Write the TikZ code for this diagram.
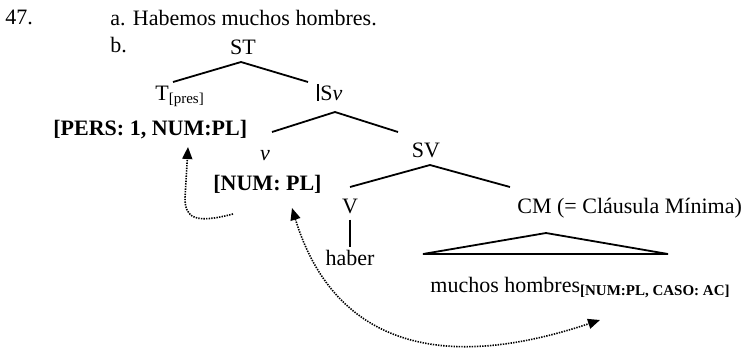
\documentclass[tikz,border=0pt]{standalone}
\usepackage{fontspec}
\setmainfont{Liberation Serif}
\usepackage{tikz}
\usetikzlibrary{arrows.meta,positioning,calc}

\tikzset{
  txt/.style={inner sep=0pt, font=\fontsize{11}{13}\selectfont},
  rama/.style={line width=0.9pt},
  enlace/.style={line width=0.8pt, dash pattern=on 0.7pt off 0.6pt},
  punta/.tip={Triangle[length=6pt,width=5pt]}
}
\newcommand{\subsm}[1]{\textsubscript{\fontsize{7.5}{8}\selectfont #1}}

\begin{document}
\begin{tikzpicture}[x=0.5pt, y=-0.5pt]
\useasboundingbox (0,0) rectangle (744,349);
% nodos
\node[txt, anchor=base west] (num) at (5,24) {47.};
\node[txt, anchor=base west] (ejA) at (110,25) {a. Habemos muchos hombres.};
\node[txt, anchor=base west] (ejB) at (110,52) {b.};
\node[txt, anchor=base] (st) at (243,54) {ST};
\node[txt, anchor=base west] (t) at (155,100) {T\subsm{[pres]}};
\node[txt, anchor=base west] (sv1) at (320,100) {S\textit{ν}};
\node[txt, anchor=base west, font=\fontsize{11}{13}\selectfont\bfseries] (pers) at (53,135) {[PERS: 1, NUM:PL]};
\node[txt, anchor=base] (v1) at (265,160) {\textit{ν}};
\node[txt, anchor=base west, font=\fontsize{11}{13}\selectfont\bfseries] (numv) at (213,190) {[NUM: PL]};
\node[txt, anchor=base] (sv) at (426,157) {SV};
\node[txt, anchor=base] (v) at (350,213) {V};
\node[txt, anchor=base west] (cm) at (517,213) {CM (= Cláusula Mínima)};
\node[txt, anchor=base] (haber) at (350,265) {haber};
\node[txt, anchor=base west] (mh) at (430,292) {muchos hombres\subsm{\bfseries [NUM:PL, CASO: AC]}};

% puntos de las ramas
\coordinate (st-t) at (241,62);
\coordinate (st-l) at (173,82);
\coordinate (st-r) at (308,82);
\coordinate (sv1-t) at (335,112);
\coordinate (sv1-l) at (272,132);
\coordinate (sv1-r) at (398,132);
\coordinate (sv-t) at (430,165);
\coordinate (sv-l) at (350,187);
\coordinate (sv-r) at (510,187);
\coordinate (cm-t) at (546,233);
\coordinate (cm-l) at (423,254);
\coordinate (cm-r) at (668,254);

% ramas
\draw[rama] (st-l) -- (st-t) -- (st-r);
\draw[rama] (sv1-l) -- (sv1-t) -- (sv1-r);
\draw[rama] (sv-l) -- (sv-t) -- (sv-r);
\draw[rama] ([yshift=-3pt]v.south) -- ([yshift=1pt]haber.north);
\draw[rama] (cm-l) -- (cm-t) -- (cm-r) -- cycle;
\draw[line width=0.6pt] (318,84) -- (318,101);

% flechas
\coordinate (a1) at (233,214);
\coordinate (a2) at (188,147);
\coordinate (b1) at (292,208);
\coordinate (b2) at (600,320);
\draw[enlace, -punta] (a1) .. controls (195,224) and (185,218) .. (185,198) -- (a2);
\draw[enlace, punta-punta] (b1) .. controls (320,300) and (390,390) .. (b2);
\end{tikzpicture}
\end{document}
